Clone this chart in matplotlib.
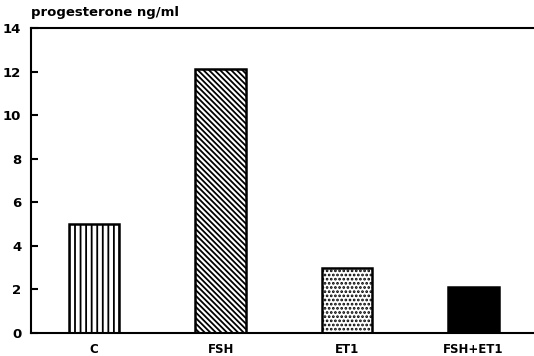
import numpy as np
import matplotlib.pyplot as plt

categories = ["C", "FSH", "ET1", "FSH+ET1"]
values = [5.0, 12.1, 3.0, 2.1]
hatches = ["|||", "\\\\\\\\\\\\", "....", ""]
fills = ["white", "white", "white", "black"]

plt.rcParams['font.family'] = ['DejaVu Sans']
plt.rcParams['hatch.linewidth'] = 1.3

fig = plt.figure(figsize=(5.34, 3.56), dpi=100)
ax = fig.add_axes([0.058, 0.065, 0.94, 0.856])

x = np.arange(len(categories))
for i in range(len(categories)):
    ax.bar(x[i], values[i], width=0.4, color=fills[i], edgecolor="black",
           hatch=hatches[i], linewidth=1.8)

ax.set_xlim(-0.5, 3.47)
ax.set_ylim(0, 14)
ax.set_yticks(range(0, 15, 2))
ax.set_xticks(x)
ax.set_xticklabels(categories, fontweight="heavy", fontsize=8.5)
for lab in ax.get_yticklabels():
    lab.set_fontweight("heavy")
    lab.set_fontsize(9.5)
ax.tick_params(axis="y", direction="in", length=5, width=1.5, pad=7)
ax.tick_params(axis="x", length=0, pad=7)
ax.spines["right"].set_visible(False)
for s in ["left", "top", "bottom"]:
    ax.spines[s].set_linewidth(1.5)

fig.text(0.058, 0.955, "progesterone ng/ml", fontweight="heavy", fontsize=9.5)

fig.savefig("out.png", dpi=100)
